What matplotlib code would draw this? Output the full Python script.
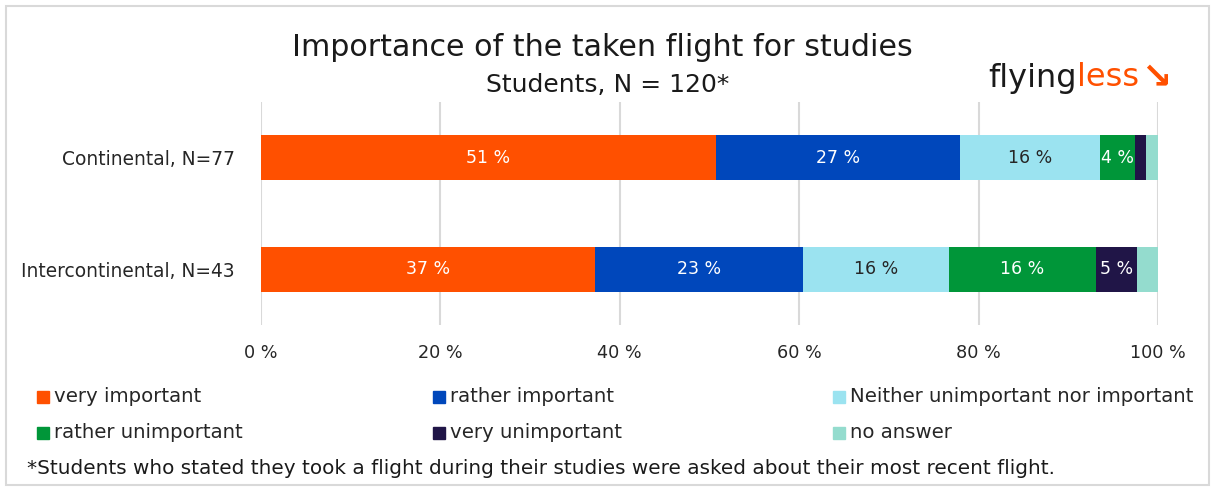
import numpy as np
import matplotlib.pyplot as plt
from matplotlib.patches import Rectangle

plt.rcParams['font.family'] = ['DejaVu Sans']

# data (share in %)
groups = ['Intercontinental, N=43', 'Continental, N=77']
answers = ['very important', 'rather important', 'Neither unimportant nor important',
           'rather unimportant', 'very unimportant', 'no answer']
shares_inter = [37.2, 23.2, 16.3, 16.4, 4.6, 2.3]
shares_conti = [50.7, 27.2, 15.6, 3.9, 1.3, 1.3]
labels_inter = ['37 %', '23 %', '16 %', '16 %', '5 %', '']
labels_conti = ['51 %', '27 %', '16 %', '4 %', '', '']
colors = ['#FF5000', '#0047BB', '#9BE3F0', '#009639', '#201547', '#94DCCE']
label_colors = ['white', 'white', '#262626', 'white', 'white', 'white']

title = 'Importance of the taken flight for studies'
subtitle = 'Students, N = 120*'
footnote = '*Students who stated they took a flight during their studies were asked about their most recent flight.'

W, H = 1214, 488
fig = plt.figure(figsize=(W / 100, H / 100), dpi=100)

# outer frame
fig.patches.append(Rectangle((6 / W, 3 / H), 1203 / W, 479 / H, transform=fig.transFigure,
                             fill=False, edgecolor='#D9D9D9', linewidth=1.5))

ax = fig.add_axes([261 / W, 1 - 325 / H, 897 / W, 223 / H])

data = np.array([shares_inter, shares_conti])
texts = [labels_inter, labels_conti]
y = np.arange(len(groups))
left = np.zeros(len(groups))
for j in range(len(answers)):
    ax.barh(y, data[:, j], left=left, height=0.405, color=colors[j], zorder=3)
    for i in range(len(groups)):
        if texts[i][j]:
            ax.text(left[i] + data[i, j] / 2, y[i], texts[i][j], ha='center', va='center',
                    color=label_colors[j], fontsize=12.5, zorder=4)
    left += data[:, j]

ax.set_xlim(0, 100)
ax.set_ylim(-0.5, 1.5)
ax.set_xticks(np.arange(0, 101, 20))
ax.set_xticklabels([f'{v} %' for v in range(0, 101, 20)])
ax.set_yticks(y)
ax.set_yticklabels(groups)
ax.grid(axis='x', color='#D9D9D9', linewidth=1.5, zorder=0)
for s in ax.spines.values():
    s.set_visible(False)
ax.tick_params(axis='both', length=0, labelsize=12.7, colors='#262626')
ax.tick_params(axis='y', labelsize=13.4, pad=19)
ax.tick_params(axis='x', pad=14)

fig.text(602 / W, 1 - 48 / H, title, ha='center', va='center', fontsize=21.7, color='#1a1a1a')
fig.text(608 / W, 1 - 85 / H, subtitle, ha='center', va='center', fontsize=18, color='#1a1a1a')

# logo
renderer = fig.canvas.get_renderer()
t1 = fig.text(988 / W, 1 - 78 / H, 'flying', ha='left', va='center', fontsize=23,
              color='#1a1a1a', fontweight='medium')
x1 = t1.get_window_extent(renderer).x1
t2 = fig.text((x1 + 1) / W, 1 - 78 / H, 'less', ha='left', va='center', fontsize=23,
              color='#FF5000', fontweight='medium')
x2 = t2.get_window_extent(renderer).x1
fig.text((x2 + 17) / W, 1 - 78 / H, '\u2198', ha='center', va='center', fontsize=26,
         color='#FF5000', fontweight='bold')

# legend
col_x = [37, 433, 833]
row_y = [397, 433]
for k, (name, c) in enumerate(zip(answers, colors)):
    xx = col_x[k % 3]
    yy = row_y[k // 3]
    fig.patches.append(Rectangle((xx / W, 1 - (yy + 6) / H), 12 / W, 12 / H,
                                 transform=fig.transFigure, color=c))
    fig.text((xx + 17) / W, 1 - yy / H, name, ha='left', va='center', fontsize=14.2, color='#262626')

fig.text(27 / W, 1 - 468 / H, footnote, ha='left', va='center', fontsize=14.4, color='#1a1a1a')

fig.savefig('out.png', dpi=100)
